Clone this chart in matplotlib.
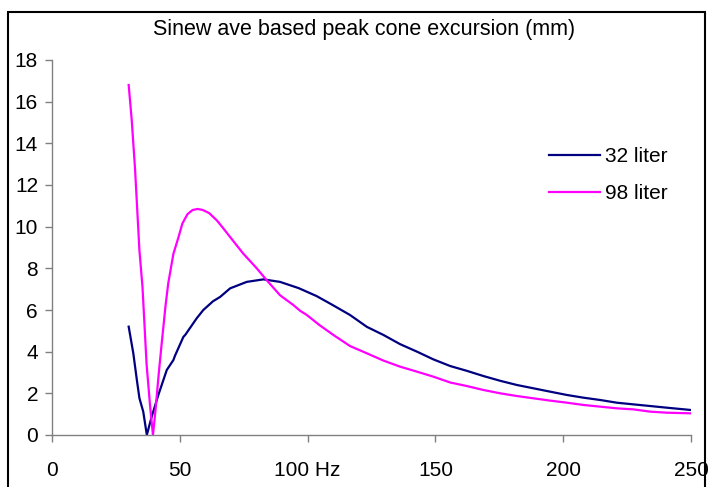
import matplotlib
matplotlib.use("Agg")
import matplotlib.pyplot as plt
from matplotlib.patches import Rectangle

plt.rcParams['font.family'] = ['Liberation Sans', 'DejaVu Sans']

# Peak cone excursion (mm) versus frequency (Hz)
freq_32 = [30, 31.8, 33.2, 34.2, 35.7, 37.1, 39.0, 41.6, 44.9, 47.5, 48.1, 51.4,
           52.1, 56.6, 59.2, 63.0, 65.8, 69.7, 76.2, 82.7, 89.2, 96.5, 103.5,
           109.5, 116.6, 123.2, 129.7, 136.2, 142.8, 149.2, 155.8, 162.3, 168.8,
           175.4, 181.9, 188.4, 194.9, 201.5, 208.0, 214.5, 221.0, 227.5, 234.1,
           240.6, 250]
exc_32 = [5.2, 3.93, 2.64, 1.77, 1.12, 0.0, 0.88, 1.92, 3.12, 3.6, 3.8, 4.71,
          4.8, 5.6, 6.0, 6.42, 6.63, 7.04, 7.35, 7.47, 7.35, 7.05, 6.67,
          6.26, 5.76, 5.19, 4.8, 4.36, 4.0, 3.63, 3.31, 3.08, 2.83,
          2.6, 2.4, 2.24, 2.08, 1.92, 1.79, 1.68, 1.55, 1.47, 1.39,
          1.31, 1.2]

freq_98 = [30, 31.2, 32.5, 34.2, 35.4, 37.0, 38.4, 39.5, 40.5, 41.8, 43.0, 44.5,
           45.5, 47.5, 49.5, 51.0, 53.0, 55.0, 57.0, 59.0, 61.5, 64.5, 66.5,
           69.7, 74.8, 80.1, 84.0, 89.2, 94.4, 97.1, 99.7, 104.6, 110.1, 116.6,
           123.2, 129.7, 136.2, 142.8, 149.2, 155.8, 162.3, 168.8, 175.4, 181.9,
           188.4, 194.9, 201.5, 208.0, 214.5, 221.0, 227.5, 234.1, 240.6, 250]
exc_98 = [16.8, 15.1, 12.75, 8.87, 7.11, 3.4, 1.36, 0.0, 1.2, 3.0, 4.5, 6.3,
          7.3, 8.7, 9.5, 10.15, 10.6, 10.8, 10.85, 10.8, 10.65, 10.3, 10.0,
          9.5, 8.71, 8.0, 7.43, 6.71, 6.24, 5.96, 5.76, 5.28, 4.8, 4.27,
          3.92, 3.57, 3.28, 3.04, 2.8, 2.52, 2.35, 2.16, 2.0, 1.87,
          1.76, 1.65, 1.55, 1.44, 1.36, 1.28, 1.23, 1.12, 1.07, 1.04]

series_names = ["32 liter", "98 liter"]
series_colors = ["#000080", "#FF00FF"]

x_ticks = [0, 50, 100, 150, 200, 250]
x_tick_labels = ["0", "50", "100 Hz", "150", "200", "250"]
y_ticks = list(range(0, 19, 2))

FS = 15

W, H = 708, 487
fig = plt.figure(figsize=(W / 100, H / 100), dpi=100)
ax = fig.add_axes([52 / W, 1 - 435 / H, (691 - 52) / W, (435 - 60) / H])

ax.plot(freq_32, exc_32, color=series_colors[0], lw=1.6, label=series_names[0])
ax.plot(freq_98, exc_98, color=series_colors[1], lw=1.6, label=series_names[1])

ax.set_xlim(0, 250)
ax.set_ylim(0, 18)
ax.set_xticks(x_ticks)
ax.set_xticklabels(x_tick_labels)
ax.set_yticks(y_ticks)

for side in ("top", "right"):
    ax.spines[side].set_visible(False)
for side in ("left", "bottom"):
    ax.spines[side].set_color("#808080")
    ax.spines[side].set_linewidth(1.0)
ax.tick_params(direction="out", length=5, width=1.0, color="#808080",
               labelsize=FS, labelcolor="black", pad=5)
ax.tick_params(axis="x", pad=14)

fig.text(364 / W, 1 - 30 / H, "Sinew ave based peak cone excursion (mm)",
         ha="center", va="center", fontsize=FS + 0.5)

leg = ax.legend(loc="upper left",
                bbox_to_anchor=((541 - 52) / (691 - 52), (435 - 139) / (435 - 60)),
                frameon=False, fontsize=FS, handlelength=2.45, handletextpad=0.2,
                labelspacing=0.85, borderaxespad=0)

# Outer chart-area frame
fig.patches.append(Rectangle((8 / W, -0.05), (705 - 8) / W, 1.05 - 12 / H,
                             transform=fig.transFigure, fill=False,
                             edgecolor="black", lw=1.5))

fig.savefig("out.png", dpi=100)
